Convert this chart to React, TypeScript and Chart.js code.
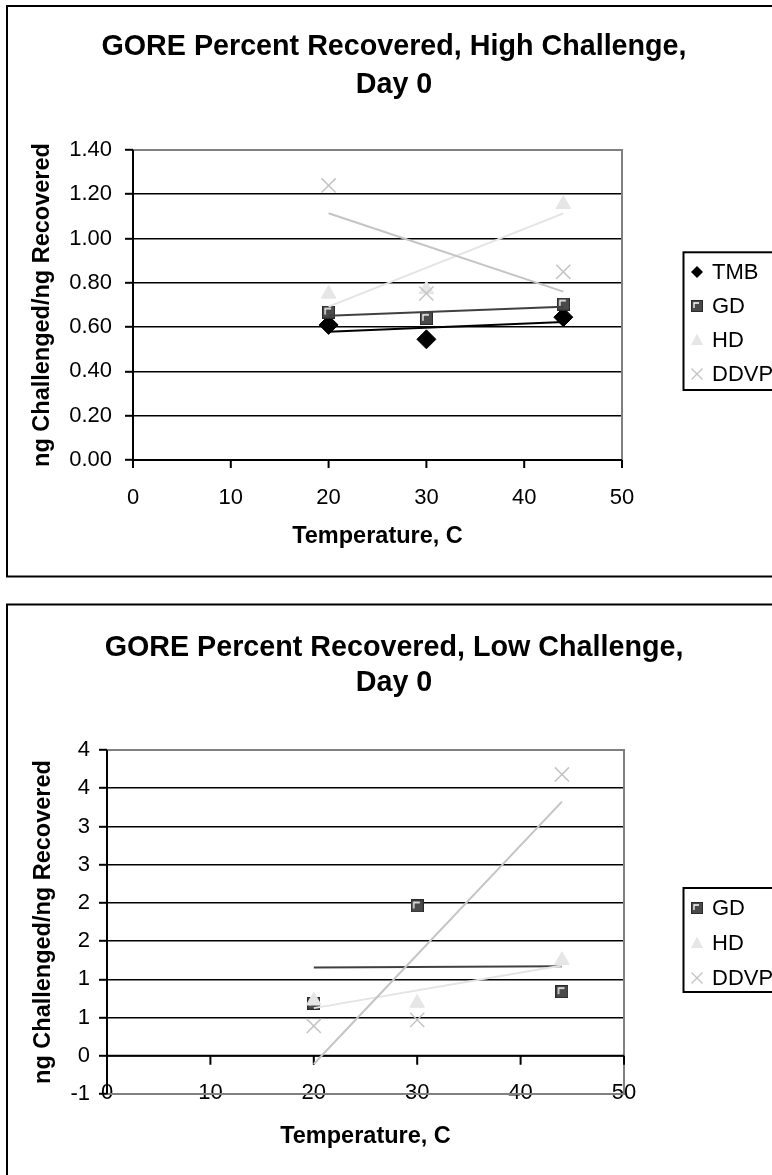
import React, { useEffect, useRef } from 'react';
import { Chart, registerables } from 'chart.js';

Chart.register(...registerables);

const FONT = '"Liberation Sans", Arial, Helvetica, sans-serif';

// ---------- data ----------
const temps = [20, 30, 44];
const xTickLabels = ['0', '10', '20', '30', '40', '50'];
const xTickValues = [0, 10, 20, 30, 40, 50];

const highTitle = ['GORE Percent Recovered, High Challenge,', 'Day 0'];
const highTMB = [0.61, 0.545, 0.645];
const highGD = [0.668, 0.64, 0.704];
const highHD = [0.75, 0.77, 1.155];
const highDDVP = [1.24, 0.752, 0.85];
const highYTickLabels = ['0.00', '0.20', '0.40', '0.60', '0.80', '1.00', '1.20', '1.40'];

const lowTitle = ['GORE Percent Recovered, Low Challenge,', 'Day 0'];
const lowGD = [0.69, 1.96, 0.84];
const lowHD = [0.72, 0.69, 1.25];
const lowDDVP = [0.39, 0.47, 3.68];
const lowYTickLabels = ['-1', '0', '1', '1', '2', '2', '3', '3', '4', '4'];

const yAxisTitle = 'ng Challenged/ng Recovered';
const xAxisTitle = 'Temperature, C';

// ---------- styles ----------
type Marker = 'diamond' | 'square' | 'triangle' | 'cross';
interface SeriesStyle { marker: Marker; color: string; trend: string; }
const STYLES: Record<string, SeriesStyle> = {
  TMB: { marker: 'diamond', color: '#000000', trend: '#000000' },
  GD: { marker: 'square', color: '#4a4a4a', trend: '#404040' },
  HD: { marker: 'triangle', color: '#e6e6e6', trend: '#e4e4e4' },
  DDVP: { marker: 'cross', color: '#c4c4c4', trend: '#c4c4c4' },
};

function linFit(xs: number[], ys: number[]) {
  const n = xs.length;
  const mx = xs.reduce((a, b) => a + b, 0) / n;
  const my = ys.reduce((a, b) => a + b, 0) / n;
  let sxy = 0, sxx = 0;
  for (let i = 0; i < n; i++) {
    sxy += (xs[i] - mx) * (ys[i] - my);
    sxx += (xs[i] - mx) * (xs[i] - mx);
  }
  const b = sxy / sxx;
  const a = my - b * mx;
  const x0 = xs[0], x1 = xs[n - 1];
  return [{ x: x0, y: a + b * x0 }, { x: x1, y: a + b * x1 }];
}

function makeSquareImage(size: number, fill: string) {
  const c = document.createElement('canvas');
  c.width = size; c.height = size;
  const g = c.getContext('2d')!;
  g.fillStyle = fill;
  g.fillRect(0, 0, size, size);
  g.strokeStyle = '#2a2a2a';
  g.lineWidth = 1;
  g.strokeRect(0.5, 0.5, size - 1, size - 1);
  g.strokeStyle = '#ffffff';
  g.lineWidth = 1.3;
  g.beginPath();
  g.moveTo(3, size - 4);
  g.lineTo(3, 3);
  g.lineTo(size - 4, 3);
  g.stroke();
  return c;
}

function drawLegendMarker(ctx: CanvasRenderingContext2D, m: Marker, color: string, x: number, y: number, sq: HTMLCanvasElement) {
  ctx.save();
  ctx.fillStyle = color;
  ctx.strokeStyle = color;
  if (m === 'diamond') {
    ctx.beginPath();
    ctx.moveTo(x, y - 6); ctx.lineTo(x + 6, y); ctx.lineTo(x, y + 6); ctx.lineTo(x - 6, y);
    ctx.closePath(); ctx.fill();
  } else if (m === 'square') {
    ctx.drawImage(sq, x - 6, y - 6, 12, 12);
  } else if (m === 'triangle') {
    ctx.beginPath();
    ctx.moveTo(x, y - 6.5); ctx.lineTo(x + 6, y + 5); ctx.lineTo(x - 6, y + 5);
    ctx.closePath(); ctx.fill();
  } else {
    ctx.lineWidth = 1.4;
    ctx.beginPath();
    ctx.moveTo(x - 5.5, y - 5.5); ctx.lineTo(x + 5.5, y + 5.5);
    ctx.moveTo(x + 5.5, y - 5.5); ctx.lineTo(x - 5.5, y + 5.5);
    ctx.stroke();
  }
  ctx.restore();
}

interface Geom {
  canvasH: number; left: number; right: number; top: number; bottom: number;
  titleY: number; titleLH: number; titleX: number; yTitlePad: number; yTickPad: number;
  xTickPad: number; xLabelY: number | null; xTitlePad: number; xTickLen: number;
  boxTop: number; boxBottom: number;
  legendTop: number; legendBottom: number; legendFirst: number; legendStep: number;
}

interface Cfg {
  title: string[];
  series: { name: string; values: number[] }[];
  yMin: number; yMax: number; yStep: number; yLabels: string[];
  geom: Geom;
}

function buildChart(canvas: HTMLCanvasElement, cfg: Cfg) {
  const g = cfg.geom;
  const sq = makeSquareImage(13, STYLES.GD.color);
  const sqLegend = makeSquareImage(12, STYLES.GD.color);
  const n = cfg.series.length;

  const datasets: any[] = [];
  cfg.series.forEach((s, k) => {
    const st = STYLES[s.name];
    const base: any = {
      label: s.name,
      data: temps.map((t, i) => ({ x: t, y: s.values[i] })),
      order: 10 + (n - k),
      showLine: false,
      backgroundColor: st.color,
      borderColor: st.color,
    };
    if (st.marker === 'diamond') Object.assign(base, { pointStyle: 'rectRot', pointRadius: 9.5, borderWidth: 1 });
    if (st.marker === 'square') Object.assign(base, { pointStyle: sq, pointRadius: 6.5 });
    if (st.marker === 'triangle') Object.assign(base, { pointStyle: 'triangle', pointRadius: 8.5, borderWidth: 1 });
    if (st.marker === 'cross') Object.assign(base, { pointStyle: 'crossRot', pointRadius: 10, borderWidth: 1.5 });
    datasets.push(base);
  });
  cfg.series.forEach((s, k) => {
    const st = STYLES[s.name];
    datasets.push({
      label: s.name + ' trend',
      data: linFit(temps, s.values),
      showLine: true,
      pointRadius: 0,
      borderColor: st.trend,
      borderWidth: 2,
      order: 5 - k,
    });
  });

  const framePlugin = {
    id: 'frame',
    beforeDatasetsDraw(chart: any) {
      const ctx = chart.ctx as CanvasRenderingContext2D;
      const a = chart.chartArea;
      const ys = chart.scales.y;
      const xs = chart.scales.x;
      const y0 = ys.getPixelForValue(0);
      ctx.save();
      // x tick labels sitting on the plot's bottom border (chart 2)
      if (g.xLabelY !== null) {
        ctx.fillStyle = '#000';
        ctx.font = `22px ${FONT}`;
        ctx.textAlign = 'center';
        ctx.textBaseline = 'middle';
        xTickValues.forEach((v, i) => {
          ctx.fillText(xTickLabels[i], xs.getPixelForValue(v), g.xLabelY as number);
        });
      }
      ctx.strokeStyle = '#808080';
      ctx.lineWidth = 2;
      ctx.beginPath();
      ctx.moveTo(a.left, a.top); ctx.lineTo(a.right, a.top); ctx.lineTo(a.right, a.bottom);
      if (cfg.yMin < 0) ctx.lineTo(a.left, a.bottom);
      ctx.stroke();
      ctx.strokeStyle = '#000';
      ctx.beginPath();
      ctx.moveTo(a.left, a.top); ctx.lineTo(a.left, a.bottom);
      ctx.moveTo(a.left, y0); ctx.lineTo(a.right, y0);
      xTickValues.forEach((v) => {
        const px = xs.getPixelForValue(v);
        ctx.moveTo(px, y0); ctx.lineTo(px, y0 + g.xTickLen);
      });
      ctx.stroke();
      ctx.restore();
    },
    afterDraw(chart: any) {
      const ctx = chart.ctx as CanvasRenderingContext2D;
      ctx.save();
      // title
      ctx.fillStyle = '#000';
      ctx.font = `bold 28.7px ${FONT}`;
      ctx.textAlign = 'center';
      ctx.textBaseline = 'middle';
      cfg.title.forEach((line, i) => ctx.fillText(line, g.titleX, g.titleY + i * g.titleLH));
      // outer box
      ctx.strokeStyle = '#000';
      ctx.lineWidth = 2;
      ctx.strokeRect(7, g.boxTop, 1200, g.boxBottom - g.boxTop);
      // legend
      ctx.strokeRect(683.5, g.legendTop, 300, g.legendBottom - g.legendTop);
      ctx.font = `22px ${FONT}`;
      ctx.textBaseline = 'middle';
      ctx.textAlign = 'left';
      cfg.series.forEach((s, k) => {
        const st = STYLES[s.name];
        const y = g.legendFirst + k * g.legendStep;
        drawLegendMarker(ctx, st.marker, st.color, 697, y, sqLegend);
        ctx.fillStyle = '#000';
        ctx.fillText(s.name, 712, y + 1);
      });
      ctx.restore();
    },
  };

  return new Chart(canvas, {
    type: 'scatter',
    data: { datasets },
    plugins: [framePlugin],
    options: {
      animation: false,
      responsive: false,
      devicePixelRatio: 1,
      events: [],
      layout: { padding: { left: 0, top: g.top, bottom: 0, right: 772 - g.right } },
      plugins: {
        legend: { display: false },
        tooltip: { enabled: false },
        title: { display: false },
      },
      scales: {
        x: {
          type: 'linear',
          position: 'bottom',
          min: 0,
          max: 50,
          afterFit: (scale: any) => { scale.height = g.canvasH - g.bottom; },
          afterBuildTicks: (scale: any) => { scale.ticks = xTickValues.map((v) => ({ value: v })); },
          ticks: {
            display: g.xLabelY === null,
            color: '#000',
            font: { family: FONT, size: 22 },
            padding: g.xTickPad,
            maxRotation: 0,
            autoSkip: false,
            callback: (_v: any, i: number) => xTickLabels[i],
          },
          grid: { display: false, drawTicks: false, drawOnChartArea: false },
          border: { display: false },
          title: {
            display: true,
            text: xAxisTitle,
            color: '#000',
            font: { family: FONT, size: 23.5, weight: 'bold' },
            padding: { top: 0, bottom: g.xTitlePad },
          },
        },
        y: {
          type: 'linear',
          position: 'left',
          min: cfg.yMin,
          max: cfg.yMax,
          afterFit: (scale: any) => { scale.width = g.left; },
          afterBuildTicks: (scale: any) => {
            scale.ticks = cfg.yLabels.map((_l, i) => ({ value: Math.round((cfg.yMin + i * cfg.yStep) * 1000) / 1000 }));
          },
          ticks: {
            color: '#000',
            font: { family: FONT, size: 22 },
            padding: g.yTickPad,
            autoSkip: false,
            callback: (_v: any, i: number) => cfg.yLabels[i],
          },
          grid: {
            color: (c: any) => (c.tick && (Math.abs(c.tick.value - cfg.yMax) < 1e-9 || (cfg.yMin < 0 && Math.abs(c.tick.value - cfg.yMin) < 1e-9)) ? 'rgba(0,0,0,0)' : '#000'),
            lineWidth: 1.6,
            tickColor: '#000',
            tickWidth: 2,
            tickLength: 8,
            drawTicks: true,
          },
          border: { display: false },
          title: {
            display: true,
            text: yAxisTitle,
            color: '#000',
            font: { family: FONT, size: 23.5, weight: 'bold' },
            padding: { top: g.yTitlePad, bottom: 0 },
          },
        },
      },
    } as any,
  });
}

const highCfg: Cfg = {
  title: highTitle,
  series: [
    { name: 'TMB', values: highTMB },
    { name: 'GD', values: highGD },
    { name: 'HD', values: highHD },
    { name: 'DDVP', values: highDDVP },
  ],
  yMin: 0, yMax: 1.4, yStep: 0.2, yLabels: highYTickLabels,
  geom: {
    canvasH: 590, left: 133, right: 622, top: 150, bottom: 460,
    titleY: 47, titleLH: 38, titleX: 394, yTitlePad: 28, yTickPad: 13,
    xTickPad: 25, xLabelY: null, xTitlePad: 38.9, xTickLen: 8,
    boxTop: 6, boxBottom: 576.5,
    legendTop: 252.3, legendBottom: 390, legendFirst: 272, legendStep: 34,
  },
};

const lowCfg: Cfg = {
  title: lowTitle,
  series: [
    { name: 'GD', values: lowGD },
    { name: 'HD', values: lowHD },
    { name: 'DDVP', values: lowDDVP },
  ],
  yMin: -0.5, yMax: 4, yStep: 0.5, yLabels: lowYTickLabels,
  geom: {
    canvasH: 585, left: 107, right: 624, top: 160, bottom: 504,
    titleY: 58.3, titleLH: 35, titleX: 394, yTitlePad: 29, yTickPad: 9,
    xTickPad: 0, xLabelY: 503, xTitlePad: 23.9, xTickLen: 9,
    boxTop: 14.5, boxBottom: 2000,
    legendTop: 298, legendBottom: 402, legendFirst: 318, legendStep: 35,
  },
};

export default function App() {
  const ref1 = useRef<HTMLCanvasElement>(null);
  const ref2 = useRef<HTMLCanvasElement>(null);
  useEffect(() => {
    const c1 = buildChart(ref1.current!, highCfg);
    const c2 = buildChart(ref2.current!, lowCfg);
    return () => { c1.destroy(); c2.destroy(); };
  }, []);
  return (
    <div style={{ position: 'fixed', left: 0, top: 0, width: 772, height: 1175, overflow: 'hidden', background: '#fff' }}>
      <div style={{ position: 'absolute', left: 0, top: 0, width: 772, height: 590 }}>
        <canvas ref={ref1} width={772} height={590} style={{ display: 'block', width: 772, height: 590 }} />
      </div>
      <div style={{ position: 'absolute', left: 0, top: 590, width: 772, height: 585 }}>
        <canvas ref={ref2} width={772} height={585} style={{ display: 'block', width: 772, height: 585 }} />
      </div>
    </div>
  );
}
